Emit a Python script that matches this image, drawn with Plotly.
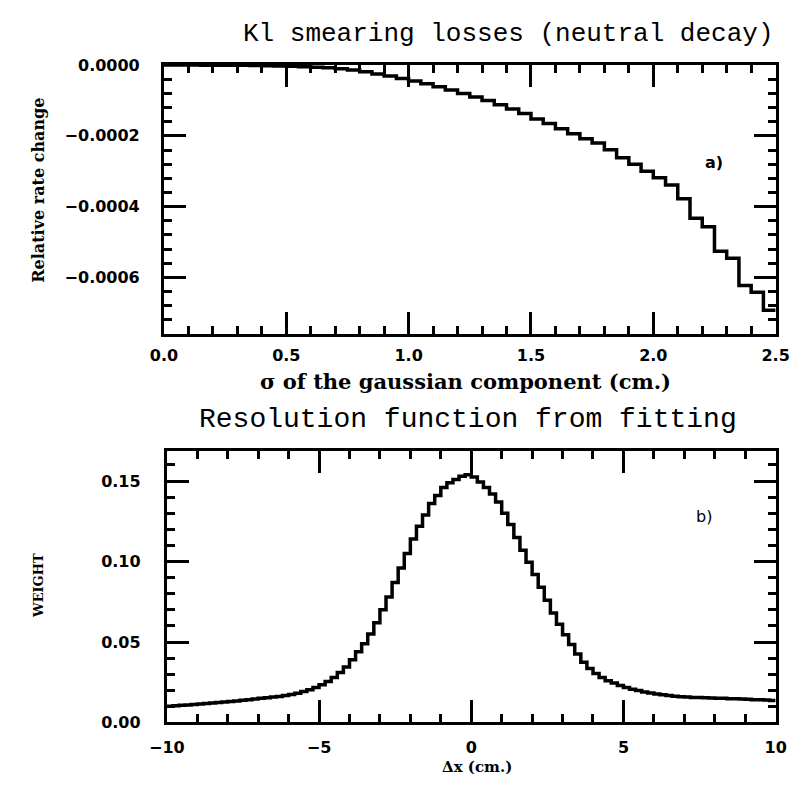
import plotly.graph_objects as go

# ---------------- data: panel a) ----------------
SIGMA_BIN_WIDTH = 0.05
SIGMA_MAX = 2.5
# relative rate change per sigma bin (bins start at 0.00, 0.05, ... 2.45)
RATE_CHANGE = [
    0.0, 0.0, 0.0, -0.1e-6, -0.2e-6, -0.4e-6, -0.7e-6, -1.1e-6, -1.6e-6, -2.3e-6,
    -3.2e-6, -4.3e-6, -5.7e-6, -7.5e-6, -1.0e-5, -1.4e-5, -1.9e-5, -2.5e-5, -3.1e-5, -3.8e-5,
    -4.5e-5, -5.3e-5, -6.1e-5, -7.0e-5, -8.0e-5, -9.0e-5, -1.00e-4, -1.12e-4, -1.24e-4, -1.37e-4,
    -1.52e-4, -1.65e-4, -1.80e-4, -1.94e-4, -2.08e-4, -2.20e-4, -2.39e-4, -2.62e-4, -2.80e-4, -3.00e-4,
    -3.18e-4, -3.39e-4, -3.78e-4, -4.33e-4, -4.57e-4, -5.26e-4, -5.46e-4, -6.23e-4, -6.42e-4, -6.93e-4,
]

# ---------------- data: panel b) ----------------
DX_BIN_WIDTH = 0.2
DX_MIN = -10.0
WEIGHT = [
    # -10.0 ... -0.2 (bin starts)
    0.0101, 0.0104, 0.0107, 0.0109, 0.0112, 0.0115, 0.0118, 0.0121, 0.0124, 0.0127,
    0.0131, 0.0134, 0.0138, 0.0142, 0.0146, 0.0150, 0.0154, 0.0158, 0.0162, 0.0167,
    0.0174, 0.0182, 0.0193, 0.0204, 0.0217, 0.0234, 0.0255, 0.0280, 0.0310, 0.0345,
    0.0390, 0.0440, 0.0490, 0.0550, 0.0620, 0.0700, 0.0780, 0.0870, 0.0960, 0.1050,
    0.1140, 0.1220, 0.1290, 0.1360, 0.1410, 0.1460, 0.1490, 0.1510, 0.1530, 0.1540,
    # 0.0 ... 9.8 (bin starts)
    0.1525, 0.1495, 0.1460, 0.1420, 0.1370, 0.1300, 0.1230, 0.1150, 0.1070, 0.0995,
    0.0920, 0.0840, 0.0760, 0.0680, 0.0610, 0.0545, 0.0485, 0.0425, 0.0375, 0.0335,
    0.0305, 0.0280, 0.0260, 0.0245, 0.0230, 0.0217, 0.0207, 0.0198, 0.0190, 0.0183,
    0.0177, 0.0172, 0.0167, 0.0163, 0.0160, 0.0158, 0.0156, 0.0155, 0.0153, 0.0152,
    0.0151, 0.0150, 0.0148, 0.0147, 0.0146, 0.0144, 0.0142, 0.0141, 0.0139, 0.0137,
]

TITLE_A = "Kl smearing losses (neutral decay)"
TITLE_B = "Resolution function from fitting"
XLABEL_A = "σ of the gaussian component (cm.)"
YLABEL_A = "Relative rate change"
XLABEL_B = "Δx (cm.)"
YLABEL_B = "WEIGHT"

# ---------------- build step histograms ----------------
sig_edges = [round(i * SIGMA_BIN_WIDTH, 4) for i in range(len(RATE_CHANGE) + 1)]
sig_y = RATE_CHANGE + [RATE_CHANGE[-1]]
dx_edges = [round(DX_MIN + i * DX_BIN_WIDTH, 4) for i in range(len(WEIGHT) + 1)]
dx_y = WEIGHT + [WEIGHT[-1]]

W, H = 805, 793
def px(x):
    return x / W
def py(y):
    return 1 - y / H

fig = go.Figure()
fig.add_trace(go.Scatter(x=sig_edges, y=sig_y, mode="lines", line_shape="hv",
                         line=dict(color="black", width=3.5), xaxis="x", yaxis="y",
                         showlegend=False, hoverinfo="skip"))
fig.add_trace(go.Scatter(x=dx_edges, y=dx_y, mode="lines", line_shape="hv",
                         line=dict(color="black", width=3.5), xaxis="x2", yaxis="y2",
                         showlegend=False, hoverinfo="skip"))

tickfont = dict(family="DejaVu Sans", size=16, color="black", weight="bold")
common = dict(showline=True, linewidth=3, linecolor="black", mirror="allticks",
              ticks="inside", ticklen=22, tickwidth=2.5, tickcolor="black",
              showgrid=False, zeroline=False, tickfont=tickfont)
minor_style = dict(ticks="inside", ticklen=8, tickwidth=2.5, tickcolor="black")

fig.update_layout(
    width=W, height=H,
    margin=dict(l=0, r=0, t=0, b=0),
    paper_bgcolor="white", plot_bgcolor="white",
    xaxis=dict(domain=[px(152), px(789)], anchor="y", range=[0, SIGMA_MAX],
               tick0=0, dtick=0.5, tickformat=".1f", ticklabelstandoff=5,
               minor=dict(dtick=0.1, **minor_style), **common),
    yaxis=dict(domain=[py(333), py(57.5)], anchor="x", range=[-0.00076, 0],
               tick0=0, dtick=0.0002, tickformat=".4f", ticklabelstandoff=18,
               minor=dict(dtick=0.00004, **minor_style), **common),
    xaxis2=dict(domain=[px(155), px(789)], anchor="y2", range=[-10, 10],
                tick0=0, dtick=5, ticklabelstandoff=8,
                minor=dict(dtick=1, **minor_style), **common),
    yaxis2=dict(domain=[py(731), py(453)], anchor="x2", range=[0, 0.1686],
                tick0=0, dtick=0.05, tickformat=".2f", ticklabelstandoff=20,
                minor=dict(dtick=0.01, **minor_style), **common),
)

mono = "Liberation Mono, Courier New, monospace"
serif_b = dict(family="DejaVu Serif", color="black", weight="bold")
annots = [
    dict(text=TITLE_A, x=px(511), y=py(26), font=dict(family=mono, size=26, color="black")),
    dict(text=TITLE_B, x=px(469), y=py(421), font=dict(family=mono, size=28, color="black")),
    dict(text=XLABEL_A, x=px(466), y=py(382), font=dict(size=21, **serif_b)),
    dict(text=YLABEL_A, x=px(21), y=py(186), textangle=-90, font=dict(size=16, **serif_b)),
    dict(text=XLABEL_B, x=px(478), y=py(777), font=dict(size=15, **serif_b)),
    dict(text=YLABEL_B, x=px(22), y=py(591), textangle=-90, font=dict(size=13, **serif_b)),
    dict(text="a)", x=px(725), y=py(157), font=dict(family="DejaVu Sans", size=16, color="black", weight="bold")),
    dict(text="b)", x=px(714), y=py(520), font=dict(family="DejaVu Sans", size=16, color="black")),
]
for a in annots:
    fig.add_annotation(xref="paper", yref="paper", showarrow=False,
                       xanchor="center", yanchor="middle", **a)

fig.write_html("out.html")
